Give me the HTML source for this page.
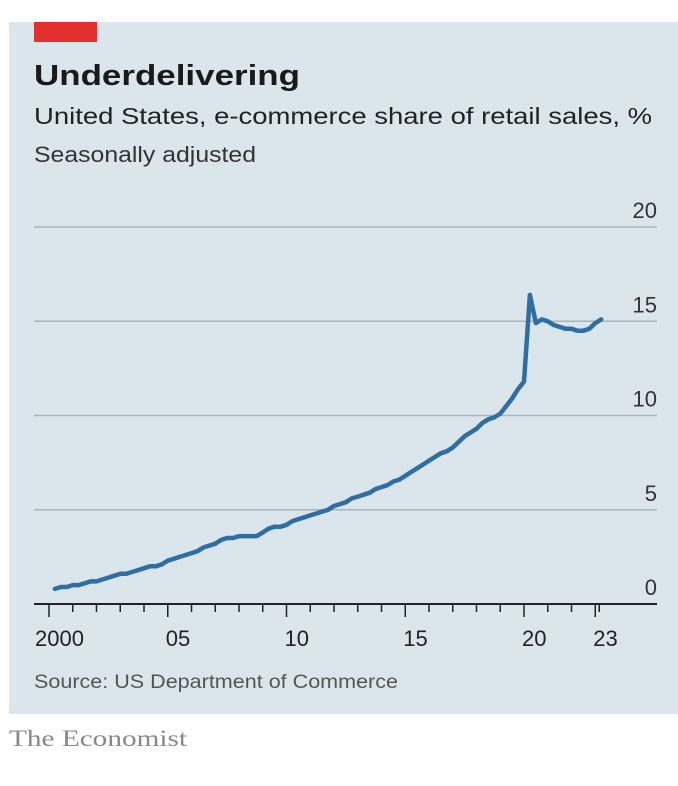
<!DOCTYPE html>
<html><head><meta charset="utf-8"><style>
html,body{margin:0;padding:0;background:#fff;width:678px;height:786px;overflow:hidden}
svg{display:block;font-family:"Liberation Sans",sans-serif}
</style></head><body>
<svg id="chart" width="678" height="786" viewBox="0 0 678 786">
<rect x="9" y="22" width="669" height="692" fill="#dae5ec"/>
<rect x="34" y="22" width="63" height="20" fill="#e3302f"/>
<text x="34" y="85" font-size="29" font-weight="bold" fill="#1a1a1a" textLength="266" lengthAdjust="spacingAndGlyphs">Underdelivering</text>
<text x="34" y="124" font-size="23" fill="#222" textLength="618" lengthAdjust="spacingAndGlyphs">United States, e-commerce share of retail sales, %</text>
<text x="34" y="162" font-size="22" fill="#333" textLength="222" lengthAdjust="spacingAndGlyphs">Seasonally adjusted</text>
<g id="grid"></g>
<g id="xaxis"></g>
<path id="line" fill="none" stroke="#2f6ea2" stroke-width="4.5" stroke-linejoin="round" stroke-linecap="round"/>
<text x="34" y="688" font-size="19" fill="#555" textLength="364" lengthAdjust="spacingAndGlyphs">Source: US Department of Commerce</text>
<text x="9" y="746" font-size="23" fill="#888" font-family="Liberation Serif,serif" textLength="178" lengthAdjust="spacingAndGlyphs">The Economist</text>
</svg>
<script>
const startYear = 2000.25;
const values = [0.8,0.9,0.9,
1.0,1.0,1.1,1.2, 1.2,1.3,1.4,1.5, 1.6,1.6,1.7,1.8, 1.9,2.0,2.0,2.1,
2.3,2.4,2.5,2.6, 2.7,2.8,3.0,3.1, 3.2,3.4,3.5,3.5, 3.6,3.6,3.6,3.6,
3.8,4.0,4.1,4.1, 4.2,4.4,4.5,4.6, 4.7,4.8,4.9,5.0, 5.2,5.3,5.4,5.6,
5.7,5.8,5.9,6.1, 6.2,6.3,6.5,6.6, 6.8,7.0,7.2,7.4, 7.6,7.8,8.0,8.1,
8.3,8.6,8.9,9.1, 9.3,9.6,9.8,9.9, 10.1,10.5,10.9,11.4, 11.8,16.4,14.9,15.1,
15.0,14.8,14.7,14.6, 14.6,14.5,14.5,14.6, 14.9,15.1];
const yTicks = [0,5,10,15,20];
const yTickLabels = ["0","5","10","15","20"];
const xLabelYears = [2000,2005,2010,2015,2020,2023];
const xLabels = ["2000","05","10","15","20","23"];
const NS="http://www.w3.org/2000/svg";
const x = t => 49 + (t-2000)*23.75;
const y = v => 604 - v*18.85;
const grid=document.getElementById('grid'), xa=document.getElementById('xaxis');
function mk(tag,attrs,parent){const e=document.createElementNS(NS,tag);for(const k in attrs)e.setAttribute(k,attrs[k]);parent.appendChild(e);return e;}
yTicks.forEach((v,i)=>{
  if(v!==0){const l=mk('line',{x1:34,x2:657,y1:y(v),y2:y(v),stroke:'#a9b4bb','stroke-width':1.5},grid);
  
  }
  const t=mk('text',{x:657,y:y(v)-9,'text-anchor':'end','font-size':22,fill:'#333'},grid);
  t.textContent=yTickLabels[i];
  
  
});
const base=mk('line',{x1:34,x2:657,y1:604,y2:604,stroke:'#222','stroke-width':2},xa);


for(let yr=2000;yr<=2023;yr++){
  const major=xLabelYears.includes(yr);
  const tk=mk('line',{x1:x(yr),x2:x(yr),y1:604,y2:major?617:612,stroke:'#222','stroke-width':1.5},xa);
  
  
}
mk('line',{x1:x(2023)+4,x2:x(2023)+4,y1:604,y2:612,stroke:'#222','stroke-width':1.5},xa);
xLabelYears.forEach((yr,i)=>{
  const t=mk('text',{x:yr===2000?35:x(yr)-2,y:646,'font-size':22,fill:'#222'},xa);
  t.textContent=xLabels[i];
  
  
});
document.getElementById('line').setAttribute('d',values.map((v,i)=>(i?'L':'M')+x(startYear+i/4).toFixed(1)+','+y(v).toFixed(1)).join(''));
</script>
</body></html>
